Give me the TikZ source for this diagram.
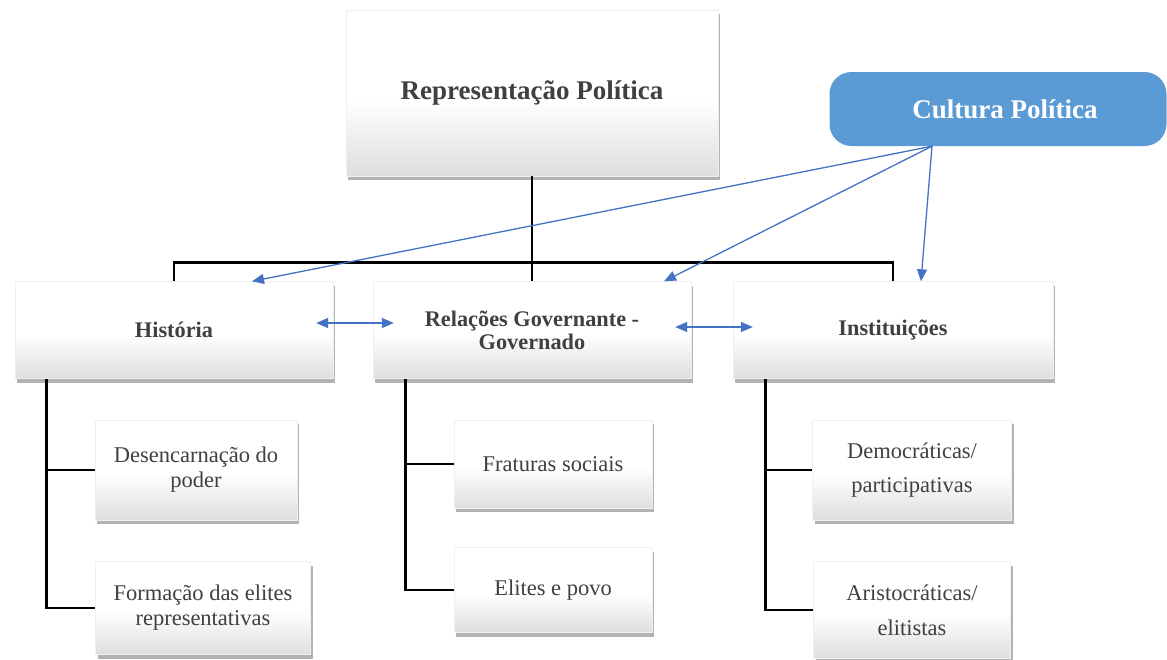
\documentclass[tikz,border=0pt]{standalone}
\usepackage{fontspec}
\setmainfont{Liberation Serif}
\usetikzlibrary{arrows.meta,shadows}

\definecolor{cultblue}{HTML}{5B9BD5}
\definecolor{linkblue}{HTML}{4472C4}
\definecolor{boxtext}{HTML}{404040}
\pgfdeclareverticalshading{boxshade}{100bp}{color(0bp)=(black!13); color(25bp)=(black!13); color(48bp)=(white); color(100bp)=(white)}

\tikzset{
  box/.style={draw=black!6, shading=boxshade,
    inner sep=0pt, align=center, text=boxtext,
    drop shadow={shadow xshift=2pt, shadow yshift=-4pt, opacity=.5, fill=black!60}},
  topbox/.style={box, font=\fontsize{27}{32}\selectfont\bfseries},
  midbox/.style={box, font=\fontsize{22.3}{23}\selectfont\bfseries},
  leafbox/.style={box, font=\fontsize{22.5}{25}\selectfont},
  cultbox/.style={fill=cultblue, rounded corners=22pt, inner sep=0pt, text=white,
    font=\fontsize{27}{32}\selectfont\bfseries},
  tree/.style={line width=2.8pt, black},
  link/.style={line width=1.3pt, linkblue, -{Triangle[length=12pt,width=10pt]}},
  bilink/.style={link, {Triangle[length=12pt,width=10pt]}-{Triangle[length=12pt,width=10pt]}}
}

\begin{document}
\begin{tikzpicture}[x=1pt, y=-1pt]
  \useasboundingbox (0,0) rectangle (1167,659);

  % top level
  \node[topbox, minimum width=372pt, minimum height=166pt] (repr) at (532,93) {Representação Política};
  \node[cultbox, minimum width=337pt, minimum height=74pt] (cult) at (998,109) {\hspace{14pt}Cultura Política};

  % second level
  \node[midbox, minimum width=318pt, minimum height=97pt] (hist) at (174,330) {História};
  \node[midbox, minimum width=318pt, minimum height=97pt] (rel) at (532,330) {Relações Governante -\\Governado};
  \node[midbox, minimum width=320pt, minimum height=97pt] (inst) at (893,330) {Instituições};

  % leaves
  \node[leafbox, minimum width=202pt, minimum height=100pt] (desc) at (196,470) {Desencarnação do\\poder};
  \node[leafbox, minimum width=215pt, minimum height=93pt] (form) at (203,608) {Formação das elites\\representativas};
  \node[leafbox, minimum width=198pt, minimum height=88pt] (frat) at (553,464) {Fraturas sociais};
  \node[leafbox, minimum width=198pt, minimum height=85pt] (elit) at (553,590) {Elites e povo};
  \node[leafbox, minimum width=199pt, minimum height=100pt, font=\fontsize{22.5}{34}\selectfont] (demo) at (912,470) {Democráticas/\\participativas};
  \node[leafbox, minimum width=197pt, minimum height=97pt, font=\fontsize{22.5}{35}\selectfont] (aris) at (912,610) {Aristocráticas/\\elitistas};

  % tree lines
  \draw[tree] (repr.south) -- ++(0,86) coordinate (jn);
  \draw[tree] (hist.north) |- (jn) -| (inst.north);
  \draw[tree] (jn) -- (rel.north);
  \draw[tree] ([xshift=32pt]hist.south west) |- (desc.west);
  \draw[tree] ([xshift=32pt]hist.south west) |- (form.west);
  \draw[tree] ([xshift=33pt]rel.south west) |- (frat.west);
  \draw[tree] ([xshift=33pt]rel.south west) |- (elit.west);
  \draw[tree] ([xshift=33pt]inst.south west) |- (demo.west);
  \draw[tree] ([xshift=33pt]inst.south west) |- (aris.west);

  % blue arrows
  \coordinate (cs) at ([xshift=-66pt]cult.south);
  \draw[link] (cs) -- ([xshift=78pt]hist.north);
  \draw[link] (cs) -- ([xshift=132pt]rel.north);
  \draw[link] (cs) -- ([xshift=28pt]inst.north);
  \draw[bilink] ([xshift=-17pt,yshift=7pt]hist.east) -- ([xshift=21pt,yshift=7pt]rel.west);
  \draw[bilink] ([xshift=-16pt,yshift=3pt]rel.east) -- ([xshift=20pt,yshift=3pt]inst.west);
\end{tikzpicture}
\end{document}
